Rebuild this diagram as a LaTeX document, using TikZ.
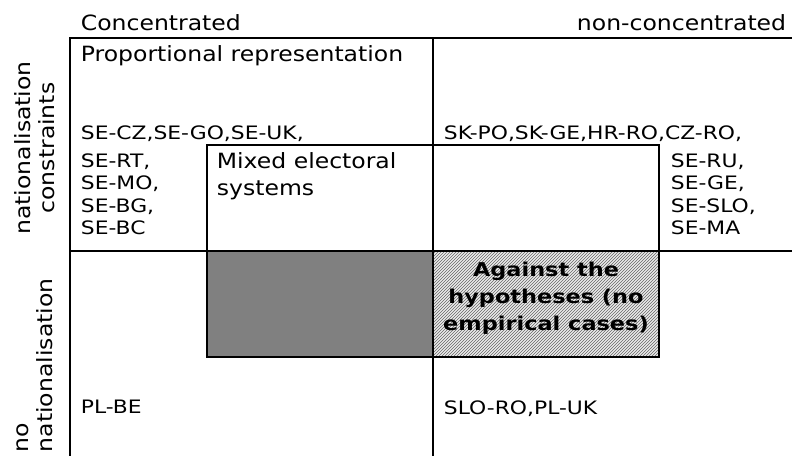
\documentclass[tikz,border=0pt]{standalone}
\usepackage{fontspec}
\setmainfont[FakeStretch=1.18]{DejaVu Sans}
\newfontfamily\headfont[FakeStretch=1.12]{DejaVu Sans}
\usetikzlibrary{patterns}

\begin{document}
\begin{tikzpicture}[x=1pt,y=-1pt,line width=1.8pt,every node/.style={inner sep=0pt},
  head/.style={font=\headfont\fontsize{21}{24}\selectfont,anchor=base west},
  cases/.style={font=\fontsize{18.5}{22}\selectfont,anchor=base west},
  against/.style={font=\fontsize{19}{23}\selectfont\bfseries,anchor=base},
  side/.style={font=\headfont\fontsize{21}{24}\selectfont,rotate=90}]
  \useasboundingbox (0,0) rectangle (792,456);
  \coordinate (TL) at (70,38);
  \coordinate (TM) at (433,38);
  \coordinate (TR) at (792,38);
  \coordinate (ML) at (70,251);
  \coordinate (MM) at (433,251);
  \coordinate (MR) at (792,251);
  \coordinate (BL) at (70,456);
  \coordinate (BM) at (433,456);
  \coordinate (XL) at (207,145);
  \coordinate (XR) at (659,357);
  \fill[black!50] (XL |- MM) rectangle (MM |- XR);
  \fill[black!8] (MM) rectangle (XR);
  \fill[pattern=north east lines,pattern color=black!60] (MM) rectangle (XR);
  \draw (TR) -- (TL) -- (BL);
  \draw (TM) -- (BM);
  \draw (ML) -- (MR);
  \draw (XL) rectangle (XR);
  \node[head] (conc) at (80,30) {Concentrated};
  \node[head,anchor=base east] (nonconc) at (787,30) {non-concentrated};
  \node[head] (prop) at (80,61) {Proportional representation};
  \node[head] (mixed1) at (216,168) {Mixed electoral};
  \node[head] (mixed2) at (216,195) {systems};
  \node[cases] (topleft) at (80,139) {SE-CZ,SE-GO,SE-UK,};
  \node[cases] (topright) at (443,139) {SK-PO,SK-GE,HR-RO,CZ-RO,};
  \foreach \name [count=\i] in {{SE-RT,},{SE-MO,},{SE-BG,},{SE-BC}}
    \node[cases] (left\i) at (80,{145.5+22.2*\i}) {\name};
  \foreach \name [count=\i] in {{SE-RU,},{SE-GE,},{SE-SLO,},{SE-MA}}
    \node[cases] (right\i) at (670,{145.5+22.2*\i}) {\name};
  \foreach \txt [count=\i] in {{Against the},{hypotheses (no},{empirical cases)}}
    \node[against] (against\i) at (546,{249+27*\i}) {\txt};
  \node[cases] (plbe) at (80,413) {PL-BE};
  \node[cases] (slopl) at (443,414) {SLO-RO,PL-UK};
  \node[side,align=center] (natcons) at (35,148) {nationalisation\\constraints};
  \node[side,align=left,anchor=south west] (nonat) at (54,453) {no\\nationalisation};
\end{tikzpicture}
\end{document}
